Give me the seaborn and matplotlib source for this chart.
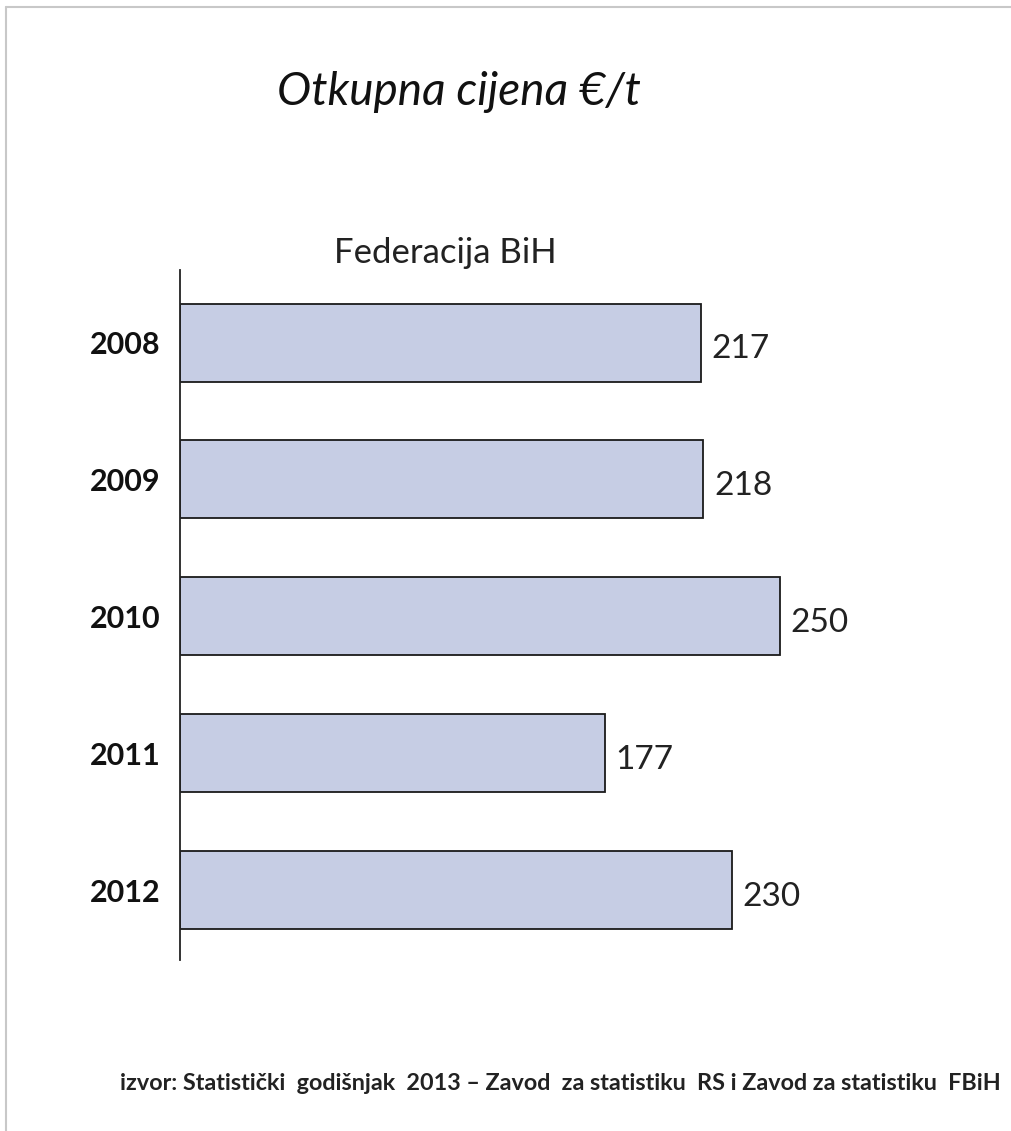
import matplotlib
matplotlib.use("Agg")
import matplotlib.pyplot as plt
import seaborn as sns
import pandas as pd
from matplotlib.lines import Line2D

# data
years = ["2008", "2009", "2010", "2011", "2012"]
prices = [217, 218, 250, 177, 230]

title = "Otkupna cijena €/t"
subtitle = "Federacija BiH"
source = "izvor: Statistički  godišnjak  2013 – Zavod  za statistiku  RS i Zavod za statistiku  FBiH"

df = pd.DataFrame({"year": years, "price": prices})

sns.set_style("white")
plt.rcParams["font.family"] = ["Lato", "DejaVu Sans"]

fig = plt.figure(figsize=(10.12, 11.31), dpi=100)
ax = fig.add_axes([180 / 1012, 1 - 960 / 1131, 820 / 1012, 690 / 1131])

sns.barplot(data=df, x="price", y="year", order=years, orient="h",
            color="#c6cde4", edgecolor="#1a1a1a", linewidth=1.3,
            width=0.57, saturation=1, ax=ax)

ax.set_xlim(0, 820 / 2.4)
ax.set_ylim(len(years) - 0.49, -0.53)

for i, v in enumerate(prices):
    ax.text(v + 4.5, i + 0.05, str(v), va="center", ha="left", fontsize=24, color="#222222")

ax.set_xlabel("")
ax.set_ylabel("")
ax.set_xticks([])
ax.tick_params(axis="y", length=0, pad=14)
for lab in ax.get_yticklabels():
    lab.set_fontsize(22)
    lab.set_fontweight("bold")
    lab.set_color("#111111")

for s in ["top", "right", "bottom"]:
    ax.spines[s].set_visible(False)
ax.spines["left"].set_color("#222222")
ax.spines["left"].set_linewidth(1.3)

fig.text(459 / 1012, 1 - 92 / 1131, title, ha="center", va="center",
         fontsize=33, style="italic", color="#111111")
fig.text(445 / 1012, 1 - 253 / 1131, subtitle, ha="center", va="center",
         fontsize=25, color="#222222")
fig.text(560 / 1012, 1 - 1083 / 1131, source, ha="center", va="center",
         fontsize=16.8, fontweight="bold", color="#222222")

# light frame of the original slide
fig.add_artist(Line2D([6 / 1012, 6 / 1012], [0, 1 - 7 / 1131], transform=fig.transFigure,
                      color="#c8c8c8", linewidth=1.5))
fig.add_artist(Line2D([6 / 1012, 1], [1 - 7 / 1131, 1 - 7 / 1131], transform=fig.transFigure,
                      color="#c8c8c8", linewidth=1.5))

fig.savefig("out.png", dpi=100)
